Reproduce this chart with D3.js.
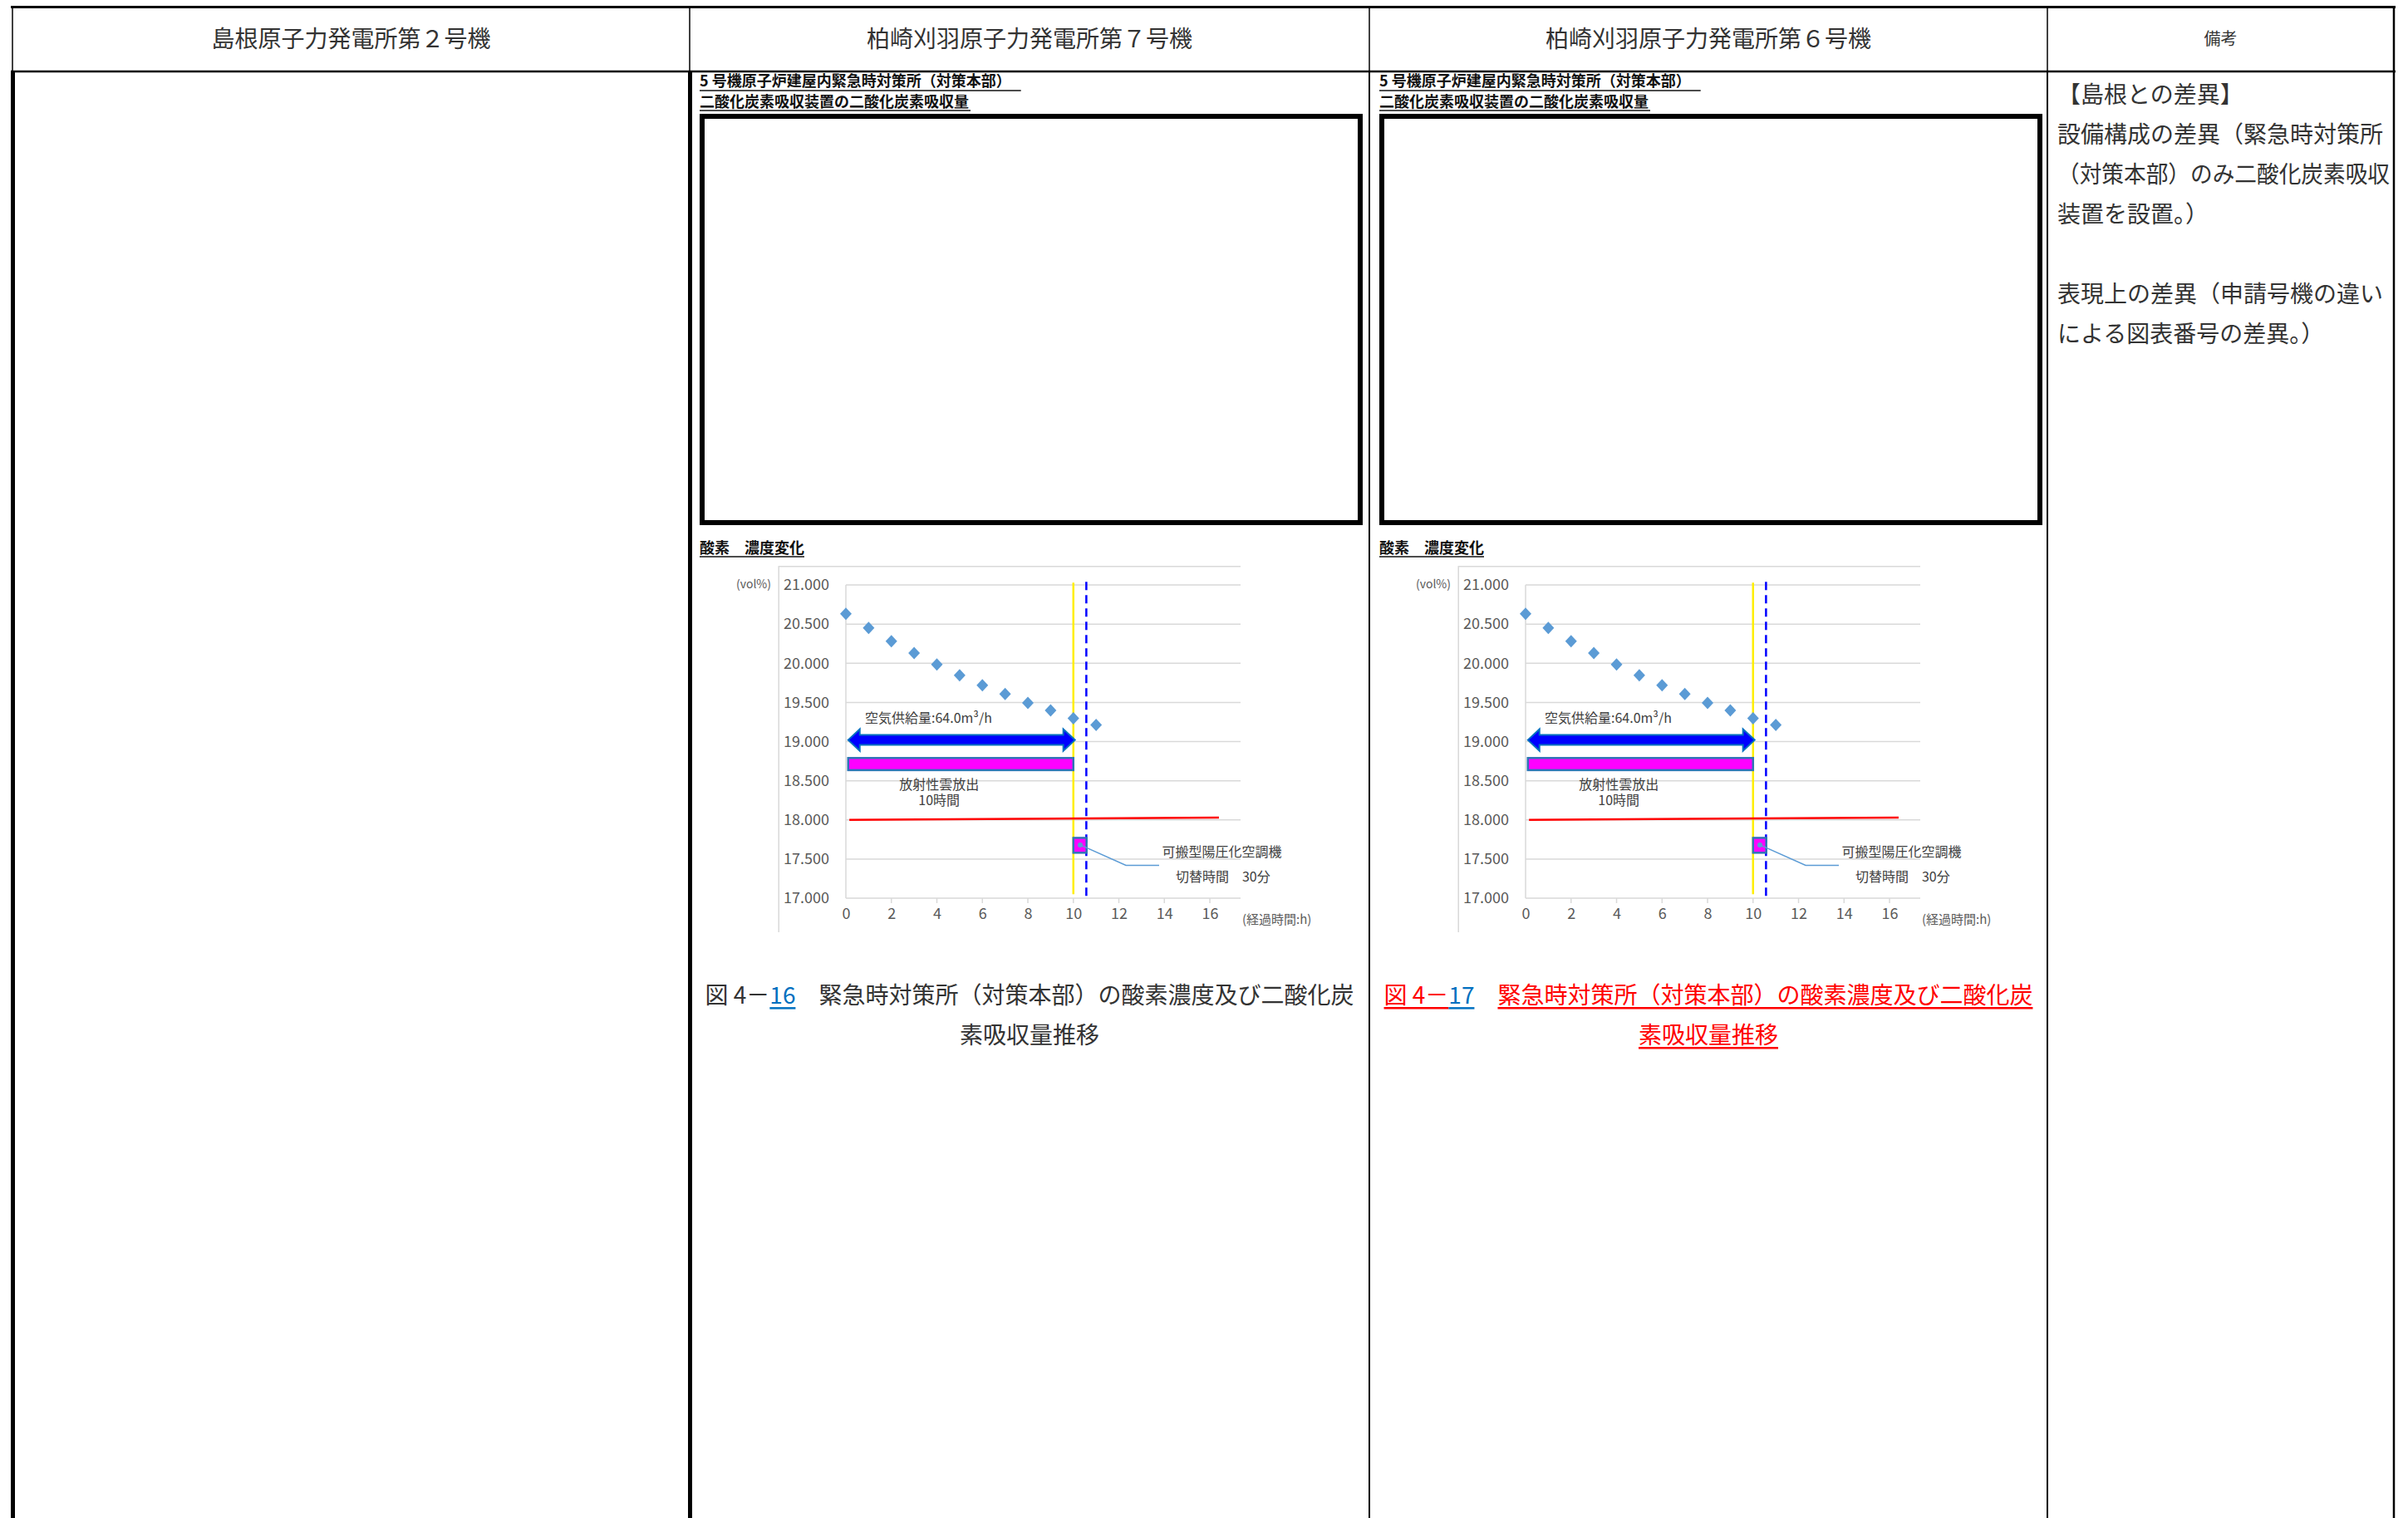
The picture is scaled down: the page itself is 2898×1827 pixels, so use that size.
<!DOCTYPE html>
<html><head><meta charset="utf-8">
<script src="https://cdn.jsdelivr.net/npm/d3@7"></script>
<style>body{margin:0;background:#fff}svg{display:block}</style>
</head><body>
<svg id="c" width="2898" height="1827"></svg>
<script>
// ---------- data ----------
const headers = ["島根原子力発電所第２号機", "柏崎刈羽原子力発電所第７号機", "柏崎刈羽原子力発電所第６号機", "備考"];
const subtitles = ["5 号機原子炉建屋内緊急時対策所（対策本部）", "二酸化炭素吸収装置の二酸化炭素吸収量"];
const chartTitle = "酸素　濃度変化";
const hours = [0, 1, 2, 3, 4, 5, 6, 7, 8, 9, 10, 11];
const o2 = [20.632, 20.452, 20.282, 20.130, 19.985, 19.847, 19.720, 19.607, 19.494, 19.398, 19.296, 19.211];
const yTicks = [17, 17.5, 18, 18.5, 19, 19.5, 20, 20.5, 21];
const xTicks = [0, 2, 4, 6, 8, 10, 12, 14, 16];
const xDomain = [0, 17.35];
const yDomain = [17, 21];
const supplySpan = [0.1, 10.07];
const supplyLevel = 19.02;
const releaseSpan = [0.1, 10];
const releaseBand = [18.635, 18.79];
const switchSpan = [10, 10.58];
const switchBand = [17.58, 17.77];
const limitLine = [[0.15, 18.0], [16.4, 18.03]];
const shiftTime = 10;
const dashedTime = 10.57;
const leaderPts = [[10.3, 17.68], [12.31, 17.42], [13.77, 17.42]];
const supplyLabel = "空気供給量:64.0m³/h";
const supplyLabelAt = [0.84, 19.31];
const releaseLabel = ["放射性雲放出", "10時間"];
const releaseLabelAt = [[4.1, 18.46], [4.1, 18.26]];
const unitLabel = ["可搬型陽圧化空調機", "切替時間　30分"];
const unitLabelAt = [[13.9, 17.6], [14.5, 17.29]];
const yUnit = "(vol%)";
const xUnit = "(経過時間:h)";
const captionNumbers = ["16", "17"];
const captionHead = "図 4－";
const captionBody1 = "緊急時対策所（対策本部）の酸素濃度及び二酸化炭";
const captionBody2 = "素吸収量推移";
const remarks = ["【島根との差異】", "設備構成の差異（緊急時対策所", "（対策本部）のみ二酸化炭素吸収", "装置を設置。）", "", "表現上の差異（申請号機の違い", "による図表番号の差異。）"];

// ---------- drawing ----------
const FONT = "'Noto Sans CJK JP', 'Noto Sans', sans-serif";
const svg = d3.select("#c").style("font-family", FONT);

// table grid
const colX = [15, 830, 1648, 2464, 2881];
const topY = 8.5, headY = 86, botY = 1827;
const tbl = svg.append("g").attr("stroke", "#000");
tbl.append("line").attr("x1", 13).attr("x2", 2883).attr("y1", topY).attr("y2", topY).attr("stroke-width", 3);
tbl.append("line").attr("x1", 13).attr("x2", 2883).attr("y1", headY).attr("y2", headY).attr("stroke-width", 2.5);
colX.forEach((x, i) => {
  tbl.append("line").attr("x1", x).attr("x2", x).attr("y1", topY).attr("y2", headY)
    .attr("stroke-width", i === 4 ? 2.5 : 1.5);
  const thick = (i === 0 || i === 1);
  tbl.append("line").attr("x1", thick ? x + 0.5 : x).attr("x2", thick ? x + 0.5 : x)
    .attr("y1", headY).attr("y2", botY).attr("stroke-width", thick ? 5 : (i === 4 ? 2.5 : 2));
});

// headers
headers.forEach((h, i) => {
  svg.append("text").attr("x", (colX[i] + colX[i + 1]) / 2).attr("y", 45)
    .attr("text-anchor", "middle").attr("dominant-baseline", "central")
    .attr("font-size", i === 3 ? 20 : 28).attr("fill", "#333").text(h);
});

// remarks
remarks.forEach((t, i) => {
  const el = svg.append("text").attr("x", 2476).attr("y", 112 + i * 48).attr("dominant-baseline", "central")
    .attr("font-size", 28).attr("fill", "#333").text(t);
  const w = el.node().getComputedTextLength();
  if (w > 400) el.attr("textLength", 400).attr("lengthAdjust", "spacingAndGlyphs");
});

function runs(parts, cx, y, fs) {
  const g = svg.append("g");
  const widths = parts.map(p => {
    const t = g.append("text").attr("font-size", fs).text(p.t);
    const w = t.node().getComputedTextLength(); t.remove(); return w;
  });
  const total = d3.sum(widths);
  let x = cx - total / 2;
  parts.forEach((p, i) => {
    g.append("text").attr("x", x).attr("y", y).attr("dominant-baseline", "central")
      .attr("font-size", fs).attr("fill", p.c).text(p.t);
    if (p.u) g.append("line").attr("x1", x).attr("x2", x + widths[i]).attr("y1", y + fs * 0.62).attr("y2", y + fs * 0.62)
      .attr("stroke", p.u).attr("stroke-width", 2.5);
    x += widths[i];
  });
}

function drawPanel(off, idx) {
  const g = svg.append("g");
  // subtitles (bold, underlined)
  subtitles.forEach((s, i) => {
    const t = g.append("text").attr("x", 842 + off).attr("y", 104 + i * 25)
      .attr("font-size", 18).attr("font-weight", "bold").attr("fill", "#111").text(s);
    const w = t.node().getComputedTextLength();
    g.append("line").attr("x1", 842 + off).attr("x2", 842 + off + w + (i === 0 ? 12 : 2))
      .attr("y1", 109 + i * 24).attr("y2", 109 + i * 24).attr("stroke", "#111").attr("stroke-width", 1.5);
  });
  // empty figure box
  g.append("rect").attr("x", 845 + off).attr("y", 140).attr("width", 792).attr("height", 489)
    .attr("fill", "none").attr("stroke", "#000").attr("stroke-width", 6);
  // chart title
  const ct = g.append("text").attr("x", 842 + off).attr("y", 666).attr("font-size", 18)
    .attr("font-weight", "bold").attr("fill", "#111").text(chartTitle);
  const cw = ct.node().getComputedTextLength();
  g.append("line").attr("x1", 842 + off).attr("x2", 842 + off + cw).attr("y1", 670).attr("y2", 670)
    .attr("stroke", "#111").attr("stroke-width", 1.5);

  const x = d3.scaleLinear().domain(xDomain).range([1018 + off, 1493 + off]);
  const y = d3.scaleLinear().domain(yDomain).range([1081, 704]);

  // chart frame (top & left)
  g.append("path").attr("d", `M${x(-2.95)},1122 V${y(21.237)} H${x(xDomain[1])}`)
    .attr("fill", "none").attr("stroke", "#d9d9d9").attr("stroke-width", 1.5);
  // gridlines
  g.selectAll(".grid").data(yTicks).join("line")
    .attr("x1", x(0)).attr("x2", x(xDomain[1])).attr("y1", d => y(d)).attr("y2", d => y(d))
    .attr("stroke", "#d9d9d9").attr("stroke-width", 1.5);
  g.append("line").attr("x1", x(0)).attr("x2", x(0)).attr("y1", y(17)).attr("y2", y(21))
    .attr("stroke", "#d9d9d9").attr("stroke-width", 1.5);
  g.selectAll(".xt").data(xTicks.slice(1)).join("line")
    .attr("x1", d => x(d)).attr("x2", d => x(d)).attr("y1", y(17)).attr("y2", y(17) + 6)
    .attr("stroke", "#d9d9d9").attr("stroke-width", 1.5);

  // axes (labels)
  const ya = g.append("g").attr("transform", `translate(${x(0) - 20},0)`)
    .call(d3.axisLeft(y).tickValues(yTicks).tickFormat(d3.format(".3f")).tickSize(0).tickPadding(0));
  const xa = g.append("g").attr("transform", `translate(0,${y(17)})`)
    .call(d3.axisBottom(x).tickValues(xTicks).tickFormat(d3.format("d")).tickSize(0).tickPadding(12));
  [ya, xa].forEach(a => {
    a.select(".domain").remove();
    a.selectAll("text").attr("font-size", 18).attr("fill", "#595959").style("font-family", FONT);
  });
  g.append("text").attr("x", x(0) - 90).attr("y", y(21) - 2).attr("text-anchor", "end").attr("dominant-baseline", "central")
    .attr("font-size", 14).attr("fill", "#595959").text(yUnit);
  g.append("text").attr("x", x(xDomain[1]) + 2).attr("y", y(17) + 24).attr("dominant-baseline", "central")
    .attr("font-size", 15).attr("fill", "#595959").text(xUnit);

  // vertical lines
  g.append("line").attr("x1", x(shiftTime)).attr("x2", x(shiftTime)).attr("y1", y(21.03)).attr("y2", y(17.05))
    .attr("stroke", "#ffee00").attr("stroke-width", 2.5);
  g.append("line").attr("x1", x(dashedTime)).attr("x2", x(dashedTime)).attr("y1", y(21.04)).attr("y2", y(16.97))
    .attr("stroke", "#0000ff").attr("stroke-width", 2.5).attr("stroke-dasharray", "10,6");

  // red limit line
  g.append("line").attr("x1", x(limitLine[0][0])).attr("y1", y(limitLine[0][1]))
    .attr("x2", x(limitLine[1][0])).attr("y2", y(limitLine[1][1]))
    .attr("stroke", "#ff0000").attr("stroke-width", 2.5);

  // double arrow
  const ax1 = x(supplySpan[0]), ax2 = x(supplySpan[1]), ay = y(supplyLevel);
  const hl = 14, hh = 13, bh = 6;
  const ap = [[ax1, ay], [ax1 + hl, ay - hh], [ax1 + hl, ay - bh], [ax2 - hl, ay - bh], [ax2 - hl, ay - hh], [ax2, ay],
    [ax2 - hl, ay + hh], [ax2 - hl, ay + bh], [ax1 + hl, ay + bh], [ax1 + hl, ay + hh]];
  g.append("path").attr("d", "M" + ap.join("L") + "Z").attr("fill", "#0000ff").attr("stroke", "#0070c0").attr("stroke-width", 2);

  // release bar
  g.append("rect").attr("x", x(releaseSpan[0])).attr("y", y(releaseBand[1]))
    .attr("width", x(releaseSpan[1]) - x(releaseSpan[0])).attr("height", y(releaseBand[0]) - y(releaseBand[1]))
    .attr("fill", "#ff00ff").attr("stroke", "#2e75b6").attr("stroke-width", 2.5);
  // switch box
  g.append("rect").attr("x", x(switchSpan[0])).attr("y", y(switchBand[1]))
    .attr("width", x(switchSpan[1]) - x(switchSpan[0])).attr("height", y(switchBand[0]) - y(switchBand[1]))
    .attr("fill", "#ff00ff").attr("stroke", "#2e75b6").attr("stroke-width", 2.5);
  // leader
  g.append("path").attr("d", d3.line().x(d => x(d[0])).y(d => y(d[1]))(leaderPts))
    .attr("fill", "none").attr("stroke", "#5b9bd5").attr("stroke-width", 1.5);
  g.append("circle").attr("cx", x(leaderPts[0][0])).attr("cy", y(leaderPts[0][1])).attr("r", 3).attr("fill", "#5b9bd5");

  // diamonds
  g.selectAll(".pt").data(hours).join("path")
    .attr("transform", (d, i) => `translate(${x(d)},${y(o2[i])})`)
    .attr("d", "M0,-7.5L7,0L0,7.5L-7,0Z").attr("fill", "#5b9bd5");

  // labels
  g.append("text").attr("x", x(supplyLabelAt[0])).attr("y", y(supplyLabelAt[1])).attr("dominant-baseline", "central")
    .attr("font-size", 16).attr("fill", "#404040").text(supplyLabel);
  releaseLabel.forEach((t, i) => g.append("text").attr("x", x(releaseLabelAt[i][0])).attr("y", y(releaseLabelAt[i][1]))
    .attr("text-anchor", "middle").attr("dominant-baseline", "central").attr("font-size", 16).attr("fill", "#404040").text(t));
  unitLabel.forEach((t, i) => g.append("text").attr("x", x(unitLabelAt[i][0])).attr("y", y(unitLabelAt[i][1]))
    .attr("dominant-baseline", "central").attr("font-size", 16).attr("fill", "#404040").text(t));

  // caption
  const cx = (colX[idx] + colX[idx + 1]) / 2;
  const main = idx === 1 ? "#333" : "#ff0000";
  const ul = idx === 1 ? null : "#ff0000";
  runs([
    {t: captionHead, c: main, u: ul},
    {t: captionNumbers[idx - 1], c: "#0070c0", u: "#0070c0"},
    {t: "　", c: main, u: null},
    {t: captionBody1, c: main, u: ul}
  ], cx, 1196, 28);
  runs([{t: captionBody2, c: main, u: ul}], cx, 1244, 28);
}

drawPanel(0, 1);
drawPanel(818, 2);
</script>
</body></html>
